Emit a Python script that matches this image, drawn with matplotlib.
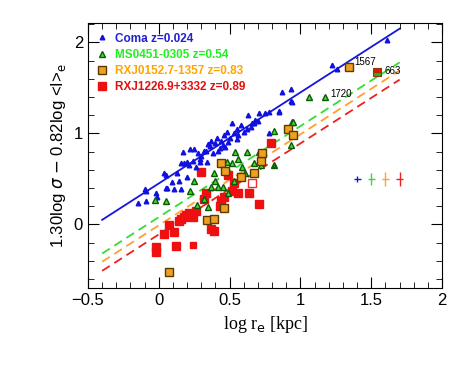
import numpy as np
import matplotlib
matplotlib.use("Agg")
import matplotlib.pyplot as plt
from matplotlib.ticker import MultipleLocator

# Coma z=0.024
coma_x = [-0.15, -0.09, -0.09, -0.02, -0.01, 0.05, 0.05, 0.11, 0.13, 0.16, 0.17, 0.18, 0.21,
          0.22, 0.25, 0.26, 0.28, 0.29, 0.33, 0.34, 0.37, 0.38, 0.40, 0.42, 0.44, 0.46, 0.47,
          0.49, 0.52, 0.53, 0.55, 0.58, 0.60, 0.63, 0.65, 0.67, 0.71, 0.75, 0.78, 0.85, 0.94,
          0.87, 0.93, 0.93, 0.85, 0.78, 0.66, 1.22, 1.26, 1.61, -0.10, 0.04, 0.06, 0.14, 0.20,
          0.16, 0.20, 0.32, 0.29, 0.36, 0.41, 0.45, 0.50, 0.56, 0.62, 0.68, 0.30, 0.24, 0.43,
          0.55, 0.09, 0.48, 0.70, 0.35]
coma_y = [0.23, 0.26, 0.37, 0.35, 0.30, 0.54, 0.40, 0.39, 0.57, 0.39, 0.79, 0.67, 0.65,
          0.83, 0.83, 0.63, 0.78, 0.68, 0.81, 0.68, 0.92, 0.78, 0.89, 0.81, 0.92, 0.98, 0.85,
          0.90, 1.11, 1.00, 1.05, 1.09, 1.01, 1.20, 1.07, 1.11, 1.22, 1.22, 1.00, 1.23, 1.34,
          1.45, 1.49, 1.36, 1.25, 1.23, 1.11, 1.75, 1.71, 2.02, 0.39, 0.56, 0.40, 0.48, 0.52,
          0.67, 0.69, 0.81, 0.72, 0.86, 0.95, 0.87, 0.95, 0.98, 1.05, 1.15, 0.75, 0.70, 0.84,
          0.94, 0.47, 1.02, 1.14, 0.88]

# MS0451-0305 z=0.54
ms_x = [-0.03, 0.05, 0.22, 0.25, 0.27, 0.32, 0.35, 0.37, 0.39, 0.40, 0.45, 0.49, 0.52,
        0.53, 0.54, 0.56, 0.59, 0.62, 0.61, 0.67, 0.71, 0.72, 0.81, 0.94, 0.93, 1.06, 1.17,
        0.95, 0.48, 0.42, 0.81]
ms_y = [0.27, 0.26, 0.37, 0.48, 0.21, 0.28, 0.19, 0.41, 0.56, 0.48, 0.41, 0.34, 0.67,
        0.48, 0.79, 0.72, 0.63, 0.79, 0.57, 0.67, 0.79, 0.65, 1.03, 1.12, 0.87, 1.40, 1.40,
        1.12, 0.68, 0.41, 0.65]
ms_small = [0.81, 0.65]

# RXJ0152.7-1357 z=0.83
rxj0152_x = [0.44, 0.34, 0.39, 0.46, 0.07, 0.67, 0.72, 0.73, 0.91, 0.95, 0.47, 0.58, 1.34]
rxj0152_y = [0.67, 0.05, 0.06, 0.18, -0.52, 0.57, 0.70, 0.78, 1.05, 0.98, 0.59, 0.52, 1.73]
rxj0152_open = [0.66, 0.46]

# RXJ1226.9+3332 z=0.89
rxj1226_x = [-0.02, -0.02, 0.04, 0.07, 0.11, 0.12, 0.14, 0.18, 0.21, 0.30, 0.32, 0.37,
             0.39, 0.44, 0.46, 0.52, 0.56, 0.64, 0.71, 0.79, 0.49, 0.24, 0.33, 0.16, 0.19,
             0.26, 0.43, 0.53]
rxj1226_y = [-0.25, -0.30, -0.10, -0.01, -0.08, -0.24, 0.04, 0.08, 0.12, 0.58, 0.28, -0.05,
             -0.07, 0.26, 0.30, 0.37, 0.34, 0.34, 0.22, 0.89, 0.54, 0.08, 0.34, 0.06, 0.10,
             0.15, 0.20, 0.45]
rxj1226_tiny = [0.24, -0.23]
mixed_point = [1.54, 1.67]

# fitted relations (slope, intercept) and x-range
fit_slope = [1.0, 1.0, 1.0, 1.0]
fit_icpt = [0.45, 0.08, -0.01, -0.11]
fit_xrange = [-0.4, 1.7]

# typical errors
err_x = [1.40, 1.50, 1.60, 1.70]
err_y = [0.5, 0.5, 0.5, 0.5]
err_dx = [0.025, 0.025, 0.025, 0.025]
err_dy = [0.03, 0.07, 0.08, 0.08]

names = ["Coma z=0.024", "MS0451-0305 z=0.54", "RXJ0152.7-1357 z=0.83", "RXJ1226.9+3332 z=0.89"]
line_cols = ["#1515e0", "#33dd33", "#ffa030", "#ee2020"]
text_cols = ["#2020d0", "#22ee22", "#ffa500", "#e01010"]

plt.rcParams['font.family'] = ['Liberation Sans', 'DejaVu Sans']

fig = plt.figure(figsize=(4.63, 3.68), dpi=100)
ax = fig.add_axes([0.190, 0.217, 0.765, 0.720])

xx = np.array(fit_xrange)
for i in range(4):
    ls = '-' if i == 0 else (0, (5, 3))
    ax.plot(xx, fit_slope[i] * xx + fit_icpt[i], color=line_cols[i], lw=1.3, ls=ls, zorder=1)

h0, = ax.plot(coma_x, coma_y, '^', ms=3.3, color='#1010e0', mec='#1010e0', ls='none', zorder=3)
h1, = ax.plot(ms_x, ms_y, '^', ms=5, mfc='#44dd22', mec='#0b5a0b', mew=1.0, ls='none', zorder=4)
ax.plot(*ms_small, '^', ms=2.5, mfc='#44dd22', mec='#0b5a0b', ls='none', zorder=4)
h2, = ax.plot(rxj0152_x, rxj0152_y, 's', ms=5.5, mfc='#f0a020', mec='#5a3a00', mew=1.0, ls='none', zorder=5)
ax.plot(*rxj0152_open, 's', ms=5.5, mfc='white', mec='#ee3030', mew=1.0, ls='none', zorder=5)
h3, = ax.plot(rxj1226_x, rxj1226_y, 's', ms=5.5, color='#ee1010', ls='none', zorder=2)
ax.plot(*rxj1226_tiny, 's', ms=4, color='#ee1010', ls='none', zorder=2)
ax.plot(*mixed_point, 's', ms=5.5, mfc='#ee1010', mfcalt='#33aa22', fillstyle='top', mec='#993300',
        mew=0.8, ls='none', zorder=5)

for i in range(4):
    ax.errorbar(err_x[i], err_y[i], xerr=err_dx[i], yerr=err_dy[i], color=line_cols[i], lw=1, capsize=0)

ax.text(1.38, 1.73, "1567", fontsize=7, va='bottom', ha='left')
ax.text(1.59, 1.63, "663", fontsize=7, va='bottom', ha='left')
ax.text(1.21, 1.38, "1720", fontsize=7, va='bottom', ha='left')

leg = ax.legend([h0, h1, h2, h3], names, loc='upper left', frameon=False,
                handlelength=0.8, handletextpad=0.7, labelspacing=0.35, borderaxespad=0.4,
                prop={'weight': 'bold', 'size': 8.5})
for t, c in zip(leg.get_texts(), text_cols):
    t.set_color(c)

ax.set_xlim(-0.5, 2.0)
ax.set_ylim(-0.7, 2.21)
ax.xaxis.set_major_locator(MultipleLocator(0.5))
ax.xaxis.set_minor_locator(MultipleLocator(0.1))
ax.yaxis.set_major_locator(MultipleLocator(1))
ax.yaxis.set_minor_locator(MultipleLocator(0.2))
ax.tick_params(which='both', direction='in', top=True, right=True, labelsize=12)
ax.tick_params(which='major', length=8)
ax.tick_params(which='minor', length=4)
ax.set_xticks([-0.5, 0, 0.5, 1, 1.5, 2])
ax.set_xticklabels(['\u22120.5', '0', '0.5', '1', '1.5', '2'])

ax.set_xlabel(r'log r$_\mathrm{e}$ [kpc]', family='Liberation Serif', fontsize=13)
ax.set_ylabel(r'1.30log $\sigma$ $-$ 0.82log <I>$_\mathrm{e}$', fontsize=12)

fig.savefig('out.png', dpi=100)
